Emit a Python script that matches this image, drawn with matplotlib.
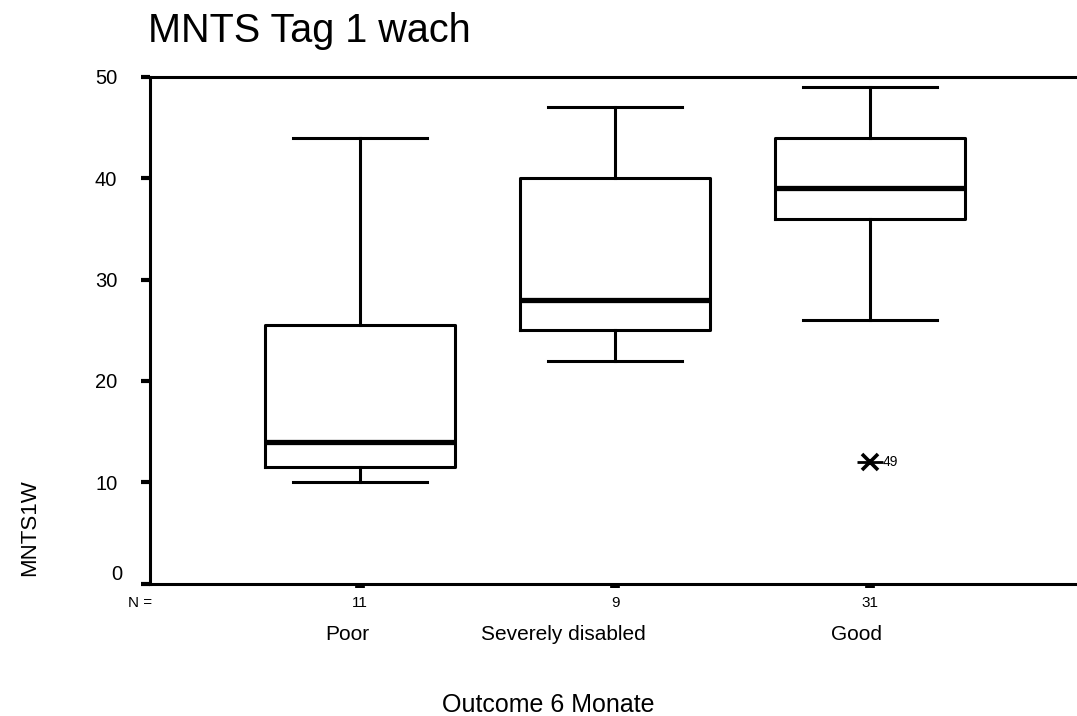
import matplotlib
matplotlib.use("Agg")
import matplotlib.pyplot as plt
from matplotlib.transforms import ScaledTranslation

plt.rcParams["font.family"] = ["Liberation Sans", "DejaVu Sans"]

# Outcome groups and their five-number summaries (MNTS day 1, awake)
categories = ["Poor", "Severely disabled", "Good"]
counts = [11, 9, 31]
whisker_low = [10, 22, 26]
q1 = [11.5, 25, 36]
median = [14, 28, 39]
q3 = [25.5, 40, 44]
whisker_high = [44, 47, 49]
# Extreme value in the "Good" group with its case number
extreme_group = [3]
extreme_value = [12]
extreme_case = ["49"]

positions = [1, 2, 3]

fig = plt.figure(figsize=(10.77, 7.16), dpi=100)
ax = fig.add_axes([150 / 1077, (716 - 583.5) / 716, 930 / 1077, 506.5 / 716])

stats = [
    dict(whislo=lo, q1=a, med=m, q3=b, whishi=hi, fliers=[], label="")
    for lo, a, m, b, hi in zip(whisker_low, q1, median, q3, whisker_high)
]
lw = 2.2
ax.bxp(
    stats,
    positions=positions,
    widths=0.745,
    capwidths=0.525,
    showfliers=False,
    boxprops=dict(color="black", linewidth=lw),
    whiskerprops=dict(color="black", linewidth=lw),
    capprops=dict(color="black", linewidth=lw),
    medianprops=dict(color="black", linewidth=3.8, solid_capstyle="butt"),
)

# extreme value: cross with a horizontal bar, labelled by case number
ax.plot(extreme_group, extreme_value, marker="_", markersize=19,
        markeredgewidth=2.0, color="black", linestyle="none")
ax.plot(extreme_group, extreme_value, marker="x", markersize=11,
        markeredgewidth=2.6, color="black", linestyle="none")
for g, v, c in zip(extreme_group, extreme_value, extreme_case):
    ax.annotate(c, (g, v), xytext=(9, 0), textcoords="offset points",
                ha="left", va="center", fontsize=10)

ax.set_xlim(1 - 210 / 255, 3 + 210 / 255)
ax.set_ylim(0, 50)

for side in ["left", "bottom", "top", "right"]:
    ax.spines[side].set_linewidth(2.2)

ax.set_yticks([0, 10, 20, 30, 40, 50])
ax.set_yticklabels(["0", "10", "20", "30", "40", "50"])
ax.tick_params(axis="y", direction="out", length=6.5, width=3, pad=17,
               labelsize=14.5)
# the zero label sits slightly higher and to the right
zero_lbl = ax.get_yticklabels()[0]
zero_lbl.set_transform(zero_lbl.get_transform()
                       + ScaledTranslation(5 / 100, 11 / 100, fig.dpi_scale_trans))

ax.set_xticks(positions)
ax.set_xticklabels([str(n) for n in counts])
ax.tick_params(axis="x", direction="out", length=3, width=7, pad=6,
               labelsize=11)

ax.text(140 / 1077, 1 - 603 / 716, "N =", transform=fig.transFigure,
        ha="center", va="center", fontsize=11)

label_x = [347, 563, 856]
for lbl, x in zip(categories, label_x):
    fig.text(x / 1077, 1 - 635 / 716, lbl, ha="center", va="center",
             fontsize=15)

fig.text(548 / 1077, 1 - 705 / 716, "Outcome 6 Monate", ha="center",
         va="center", fontsize=18)
fig.text(30 / 1077, 1 - 528 / 716, "MNTS1W", rotation=90, ha="center",
         va="center", fontsize=16)
fig.text(148 / 1077, 1 - 42 / 716, "MNTS Tag 1 wach", ha="left",
         va="baseline", fontsize=28.5)

fig.savefig("out.png", dpi=100)
